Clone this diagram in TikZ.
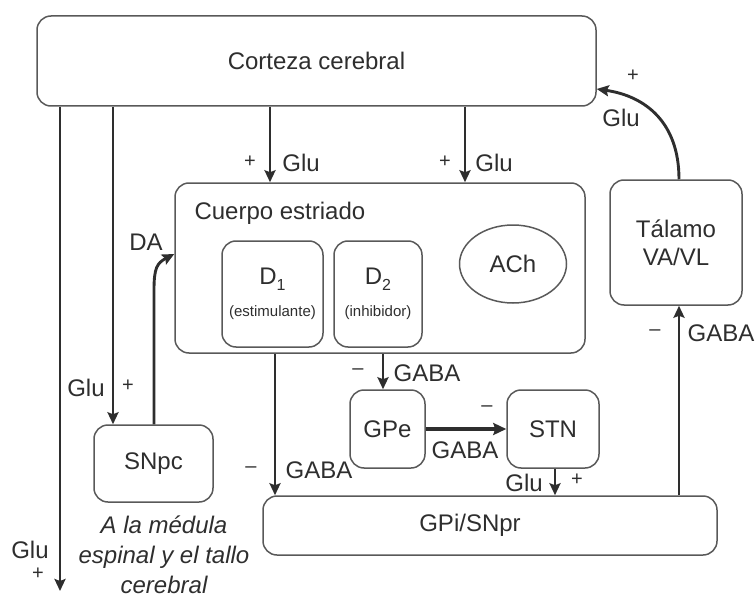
\documentclass[tikz,border=0pt]{standalone}
\usepackage{fontspec}
\setmainfont{Liberation Sans}
\usetikzlibrary{arrows.meta,shapes.geometric}

\tikzset{
  caixa/.style={draw=black!65, line width=1.5pt, rounded corners=14pt, inner sep=0pt, align=center},
  seta/.style={line width=2.9pt, -{Stealth[length=12pt,width=11pt,inset=2pt]}},
  sinal/.style={font=\fontsize{20}{20}\selectfont},
}

\begin{document}
\begin{tikzpicture}[x=1pt,y=-1pt, font=\fontsize{24}{28}\selectfont, color=black!82] %eixo y para baixo, 1 unidade = 1 pt

\useasboundingbox (0,0) rectangle (755,599);

%----------------------------------------------------
%Desenhar e posicionar todas as caixas
%----------------------------------------------------
\draw (316.5,61) node[caixa, minimum width=559pt, minimum height=90pt](corteza){Corteza cerebral}; %caixa grande do topo
\draw (380,268) node[caixa, minimum width=410pt, minimum height=170pt](cuerpo){}; %caixa do corpo estriado
\draw (191,213) node[anchor=west](rotulo){Cuerpo estriado};

\draw (272.5,294) node[caixa, minimum width=101pt, minimum height=106pt](d1){D\raisebox{-6pt}{\fontsize{16}{16}\selectfont 1}\\[4pt]{\fontsize{15}{18}\selectfont(estimulante)}};
\draw (378,294) node[caixa, minimum width=88pt, minimum height=106pt](d2){D\raisebox{-6pt}{\fontsize{16}{16}\selectfont 2}\\[4pt]{\fontsize{15}{18}\selectfont(inhibidor)}};
\draw (513,264) node[ellipse, draw=black!65, line width=1.5pt, minimum width=107pt, minimum height=78pt, inner sep=0pt](ach){ACh};

\draw (676,242.5) node[caixa, minimum width=132pt, minimum height=125pt](talamo){T\'alamo\\VA/VL};
\draw (153.5,463.5) node[caixa, minimum width=119pt, minimum height=77pt](snpc){SNpc};
\draw (387.5,429) node[caixa, minimum width=75pt, minimum height=78pt](gpe){GPe};
\draw (553,429) node[caixa, minimum width=92pt, minimum height=78pt](stn){STN};
\draw (490,525.5) node[caixa, minimum width=454pt, minimum height=59pt, label={[xshift=-20pt]center:GPi/SNpr}](gpi){}; %texto um pouco deslocado para a esquerda

\coordinate (medula) at (60,591); %saída para a medula

%texto em itálico da saída descendente
\draw (164,555) node[align=center, font=\itshape\fontsize{24}{30}\selectfont](destino){A la m\'edula\\espinal y el tallo\\cerebral};

%----------------------------------------------------
%Conexões a partir do córtex
%----------------------------------------------------
\draw[seta] (corteza.south -| 60,0) -- (medula)
  node at (30,550){Glu} node[sinal] at (38,574){+};
\draw[seta] (corteza.south -| 113,0) -- (snpc.north -| 113,0)
  node at (86,388){Glu} node[sinal] at (128,386){+};
\draw[seta] (corteza.south -| 270,0) -- (cuerpo.north -| 270,0)
  node[sinal] at (250,162){+} node at (301,163){Glu};
\draw[seta] (corteza.south -| 465,0) -- (cuerpo.north -| 465,0)
  node[sinal] at (445,162){+} node at (494,163){Glu};

%----------------------------------------------------
%Dopamina e retorno do tálamo (curvas)
%----------------------------------------------------
\draw[seta] (snpc.north -| 154,0) -- (154,290) .. controls (154,268) and (157,263) .. (cuerpo.west |- 0,254)
  node at (146,242){DA};
\draw[seta] (talamo.north -| 679,0) .. controls (679,122) and (645,96) .. (corteza.east |- 0,89)
  node[sinal] at (633,76){+} node at (621,118){Glu};

%----------------------------------------------------
%Vias de saída do estriado e dos núcleos da base
%----------------------------------------------------
\draw[seta] (cuerpo.south -| 275,0) -- (gpi.north -| 275,0)
  node[sinal] at (251,470){--} node at (319,470){GABA};
\draw[seta] (cuerpo.south -| 383,0) -- (gpe.north -| 383,0)
  node[sinal] at (358,372){--} node at (427,373){GABA};
\draw[line width=4pt, -{Stealth[length=13pt,width=12pt,inset=2pt]}] (gpe.east) -- (stn.west)
  node[sinal] at (487,409){--} node at (465,450){GABA};
\draw[seta] (stn.south -| 555,0) -- (gpi.north -| 555,0)
  node at (524,483){Glu} node[sinal] at (577,480){+};
\draw[seta] (gpi.north -| 679,0) -- (talamo.south -| 679,0)
  node[sinal] at (655,333){--} node at (721,333){GABA};

\end{tikzpicture}
\end{document}
